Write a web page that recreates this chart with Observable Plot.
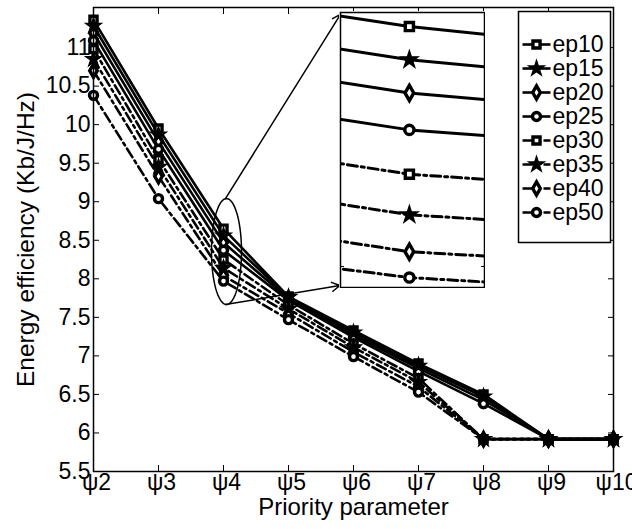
<!DOCTYPE html>
<html>
<head>
<meta charset="utf-8">
<script src="https://cdn.jsdelivr.net/npm/d3@7"></script>
<script src="https://cdn.jsdelivr.net/npm/@observablehq/plot@0.6"></script>
<style>
  html, body { margin: 0; padding: 0; background: white; }
  #chart { position: relative; width: 632px; height: 529px; background: white; }
  #chart > .layer { position: absolute; }
</style>
</head>
<body>
<div id="chart"></div>
<script>
// ---------- data ----------
const series = ["ep10", "ep15", "ep20", "ep25", "ep30", "ep35", "ep40", "ep50"];
const xValues = [2, 3, 4, 5, 6, 7, 8, 9, 10];
const xLabels = ["ψ2", "ψ3", "ψ4", "ψ5", "ψ6", "ψ7", "ψ8", "ψ9", "ψ10"];
const yTicks = [5.5, 6, 6.5, 7, 7.5, 8, 8.5, 9, 9.5, 10, 10.5, 11];

const ep10 = [11.36, 9.95, 8.65, 7.77, 7.33, 6.90, 6.50, 5.92, 5.92];
const ep15 = [11.28, 9.87, 8.56, 7.76, 7.30, 6.87, 6.47, 5.92, 5.92];
const ep20 = [11.19, 9.78, 8.47, 7.74, 7.27, 6.84, 6.43, 5.92, 5.92];
const ep25 = [11.09, 9.68, 8.37, 7.72, 7.24, 6.80, 6.38, 5.92, 5.92];
const ep30 = [10.98, 9.55, 8.25, 7.66, 7.16, 6.71, 5.92, 5.92, 5.92];
const ep35 = [10.85, 9.45, 8.14, 7.61, 7.11, 6.66, 5.92, 5.92, 5.92];
const ep40 = [10.70, 9.33, 8.04, 7.55, 7.05, 6.60, 5.92, 5.92, 5.92];
const ep50 = [10.38, 9.04, 7.97, 7.47, 6.99, 6.53, 5.92, 5.92, 5.92];
const allValues = [ep10, ep15, ep20, ep25, ep30, ep35, ep40, ep50];

const xTitle = "Priority parameter";
const yTitle = "Energy efficiency (Kb/J/Hz)";

// ---------- styles ----------
const shapes = ["square", "star", "diamond", "circle", "square", "star", "diamond", "circle"];
const solidSeries = series.slice(0, 4);
const FONT = "'Liberation Sans', Arial, Helvetica, sans-serif";
const DASH = "10,4,3,4";

const rows = [];
series.forEach((s, i) => xValues.forEach((x, j) => rows.push({series: s, x, y: allValues[i][j], shape: shapes[i]})));
const isSolid = d => solidSeries.includes(d.series);

// annotation (zoom ellipse + arrows), in data units
const ellipse = {cx: 4.046, cy: 8.354, rx: 0.231, ry: 0.687};
const ellipsePts = d3.range(0, 2 * Math.PI + 0.01, Math.PI / 60).map(t => ({x: ellipse.cx + ellipse.rx * Math.sin(t), y: ellipse.cy + ellipse.ry * Math.cos(t)}));
const arrows = [
  {x1: 4.03, y1: 9.04, x2: 5.80, y2: 11.43},
  {x1: 4.03, y1: 7.667, x2: 5.79, y2: 7.913}
];

const chart = document.getElementById("chart");
function place(el, left, top) {
  el.classList.add("layer");
  el.style.left = left + "px";
  el.style.top = top + "px";
  chart.appendChild(el);
}

function markerMarks(data, opts, r) {
  return [
    Plot.dot(data, {...opts, filter: d => d.shape !== "star" && (opts.filter ? opts.filter(d) : true), symbol: "series", r, fill: "white", stroke: "black", strokeWidth: 3.4}),
    Plot.dot(data, {...opts, filter: d => d.shape === "star" && (opts.filter ? opts.filter(d) : true), symbol: "series", r: r + 1, fill: "black", stroke: "black", strokeWidth: 1.2})
  ];
}

// ---------- main plot ----------
const main = Plot.plot({
  width: 632, height: 529,
  marginLeft: 93, marginRight: 19, marginTop: 7, marginBottom: 58,
  style: {fontFamily: FONT, fontSize: "23px", background: "white", color: "black", overflow: "visible"},
  x: {domain: [2, 10]},
  y: {domain: [5.5, 11.52]},
  symbol: {domain: series, range: shapes},
  marks: [
    Plot.axisX({anchor: "bottom", ticks: xValues, tickSize: 0, tickPadding: 2, dx: 3, tickFormat: d => xLabels[xValues.indexOf(d)], label: null}),
    Plot.axisX({anchor: "bottom", ticks: xValues, tickSize: -6, tickFormat: () => "", label: null}),
    Plot.axisX({anchor: "top", ticks: xValues, tickSize: -6, tickFormat: () => "", label: null}),
    Plot.axisY({anchor: "left", ticks: yTicks, tickSize: 0, tickPadding: 3, tickFormat: d => String(d), label: null}),
    Plot.axisY({anchor: "left", ticks: yTicks, tickSize: -6, tickFormat: () => "", label: null}),
    Plot.axisY({anchor: "right", ticks: yTicks, tickSize: -6, tickFormat: () => "", label: null}),
    Plot.line(rows, {filter: isSolid, x: "x", y: "y", z: "series", stroke: "black", strokeWidth: 2.6}),
    Plot.line(rows, {filter: d => !isSolid(d), x: "x", y: "y", z: "series", stroke: "black", strokeWidth: 2.6, strokeDasharray: DASH}),
    ...markerMarks(rows, {x: "x", y: "y"}, 4),
    Plot.line(ellipsePts, {x: "x", y: "y", stroke: "black", strokeWidth: 1.5}),
    Plot.arrow(arrows, {x1: "x1", y1: "y1", x2: "x2", y2: "y2", stroke: "black", strokeWidth: 1.5, headLength: 9}),
    Plot.frame({stroke: "black", strokeWidth: 1.5}),
    Plot.text([xTitle], {frameAnchor: "bottom", dy: 36, lineAnchor: "middle", textAnchor: "middle", fontSize: 24, fill: "black"}),
    Plot.text([yTitle], {frameAnchor: "left", dx: -67, rotate: -90, lineAnchor: "middle", textAnchor: "middle", fontSize: 24.5, fill: "black"})
  ]
});
place(main, 0, 0);

// ---------- inset (zoom around ψ4) ----------
const inset = Plot.plot({
  width: 146, height: 277, margin: 1,
  style: {fontFamily: FONT, background: "white", overflow: "hidden"},
  x: {domain: [3.978, 4.024], axis: null},
  y: {domain: [7.943, 8.688], axis: null},
  symbol: {domain: series, range: shapes},
  marks: [
    Plot.axisY({anchor: "left", ticks: [8], tickSize: -4, tickFormat: () => "", label: null}),
    Plot.axisY({anchor: "right", ticks: [8], tickSize: -4, tickFormat: () => "", label: null}),
    Plot.line(rows, {filter: isSolid, x: "x", y: "y", z: "series", stroke: "black", strokeWidth: 3, clip: true}),
    Plot.line(rows, {filter: d => !isSolid(d), x: "x", y: "y", z: "series", stroke: "black", strokeWidth: 3, strokeDasharray: DASH, clip: true}),
    ...markerMarks(rows, {x: "x", y: "y", clip: true}, 4.6),
    Plot.frame({stroke: "black", strokeWidth: 1.5})
  ]
});
place(inset, 339, 11);

// ---------- legend ----------
const legendRows = series.map((s, i) => ({series: s, shape: shapes[i]}));
const legend = Plot.plot({
  width: 92, height: 231, margin: 0,
  style: {fontFamily: FONT, background: "white", overflow: "visible"},
  x: {domain: [0, 92], range: [0, 92], axis: null},
  y: {type: "point", domain: series, range: [17, 216], axis: null},
  symbol: {domain: series, range: shapes},
  marks: [
    Plot.frame({stroke: "black", strokeWidth: 1.5}),
    Plot.link(legendRows, {filter: isSolid, x1: 4, x2: 32, y1: "series", y2: "series", stroke: "black", strokeWidth: 2.6}),
    Plot.link(legendRows, {filter: d => !isSolid(d), x1: 4, x2: 32, y1: "series", y2: "series", stroke: "black", strokeWidth: 2.6, strokeDasharray: DASH}),
    ...markerMarks(legendRows, {x: 18, y: "series"}, 4),
    Plot.text(legendRows, {x: 34, y: "series", text: "series", textAnchor: "start", fontSize: 23, fill: "black"})
  ]
});
place(legend, 518, 11);
</script>
</body>
</html>
